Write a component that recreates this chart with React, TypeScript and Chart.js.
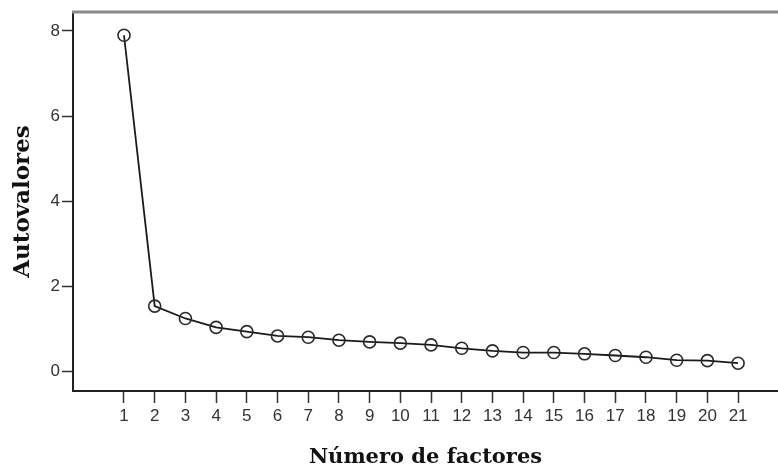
import React, { useEffect, useRef } from "react";
import { Chart, registerables } from "chart.js";

Chart.register(...registerables);

const factors: number[] = [1, 2, 3, 4, 5, 6, 7, 8, 9, 10, 11, 12, 13, 14, 15, 16, 17, 18, 19, 20, 21];
const eigenvalues: number[] = [7.9, 1.54, 1.25, 1.04, 0.94, 0.84, 0.81, 0.74, 0.7, 0.67, 0.63, 0.55, 0.49, 0.45, 0.45, 0.42, 0.38, 0.34, 0.27, 0.26, 0.2];
const yTicks: number[] = [0, 2, 4, 6, 8];
const xTitle = "Número de factores";
const yTitle = "Autovalores";

const topBorder = {
  id: "topBorder",
  afterDraw(chart: any) {
    const { ctx, chartArea } = chart;
    ctx.save();
    ctx.strokeStyle = "#8a8a8a";
    ctx.lineWidth = 3;
    ctx.beginPath();
    ctx.moveTo(chartArea.left - 1, chartArea.top);
    ctx.lineTo(chartArea.right, chartArea.top);
    ctx.stroke();
    ctx.restore();
  },
};

export default function App() {
  const ref = useRef<HTMLCanvasElement>(null);
  useEffect(() => {
    document.body.style.margin = "0";
    const canvas = ref.current!;
    const chart = new Chart(canvas, {
      type: "line",
      data: {
        datasets: [
          {
            data: factors.map((f, i) => ({ x: f, y: eigenvalues[i] })),
            borderColor: "#1a1a1a",
            borderWidth: 1.8,
            pointRadius: 6,
            pointBorderWidth: 1.6,
            pointBorderColor: "#2a2a2a",
            pointBackgroundColor: "rgba(0,0,0,0)",
            tension: 0,
          },
        ],
      },
      options: {
        animation: false,
        responsive: false,
        maintainAspectRatio: false,
        layout: { autoPadding: false, padding: { top: 12, left: 0, right: 0, bottom: 0 } },
        plugins: { legend: { display: false }, tooltip: { enabled: false } },
        scales: {
          x: {
            type: "linear",
            min: -0.661,
            max: 22.3,
            afterBuildTicks: (s: any) => {
              s.ticks = factors.map((v) => ({ value: v }));
            },
            afterFit: (s: any) => {
              s.height = 80;
              s.paddingLeft = 0;
              s.paddingRight = 0;
            },
            grid: {
              display: true,
              drawOnChartArea: false,
              drawTicks: true,
              tickLength: 12,
              tickWidth: 1.5,
              tickColor: "#333",
            },
            border: { display: true, color: "#222", width: 2 },
            ticks: {
              padding: 3,
              color: "#333",
              font: { family: "'Liberation Sans'", size: 17 },
              maxRotation: 0,
              autoSkip: false,
              callback: (v: any) => String(v),
            },
            title: {
              display: true,
              text: xTitle,
              color: "#111",
              font: { family: "'DejaVu Serif'", size: 21, weight: "bold" },
              padding: { top: 0, bottom: 1 },
            },
          },
          y: {
            type: "linear",
            min: -0.453,
            max: 8.446,
            afterBuildTicks: (s: any) => {
              s.ticks = yTicks.map((v) => ({ value: v }));
            },
            afterFit: (s: any) => {
              s.width = 73;
              s.paddingTop = 0;
              s.paddingBottom = 0;
            },
            grid: {
              display: true,
              drawOnChartArea: false,
              drawTicks: true,
              tickLength: 11,
              tickWidth: 1.5,
              tickColor: "#333",
            },
            border: { display: true, color: "#222", width: 2 },
            ticks: {
              padding: 2,
              color: "#333",
              font: { family: "'Liberation Sans'", size: 17 },
              callback: (v: any) => String(v),
            },
            title: {
              display: true,
              text: yTitle,
              color: "#111",
              font: { family: "'DejaVu Serif'", size: 23, weight: "bold" },
              padding: { top: 9, bottom: 0 },
            },
          },
        },
      },
      plugins: [topBorder],
    });
    return () => chart.destroy();
  }, []);
  return (
    <div style={{ position: "relative", width: 778, height: 471, background: "#fff" }}>
      <canvas ref={ref} width={778} height={471} style={{ width: 778, height: 471, display: "block" }} />
    </div>
  );
}
